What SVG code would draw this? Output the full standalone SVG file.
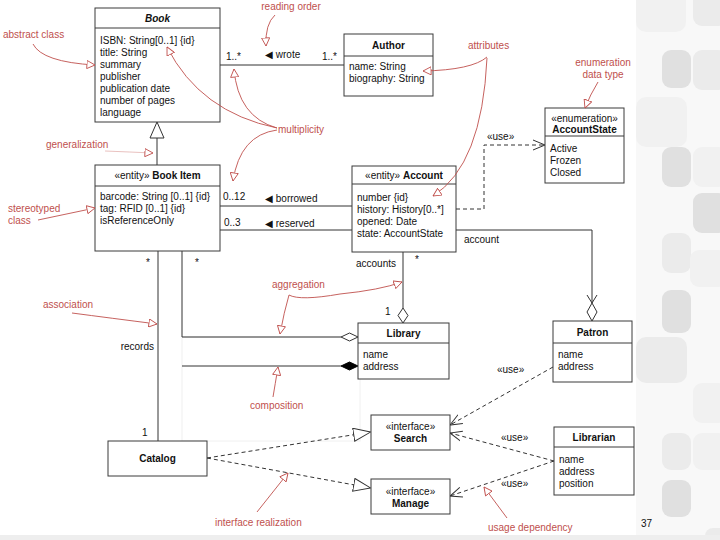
<svg xmlns="http://www.w3.org/2000/svg" width="720" height="540" viewBox="0 0 720 540">
<style>
.bx{fill:#fff;stroke:#3a3a3a;stroke-width:1}
.sep{stroke:#3a3a3a;stroke-width:1}
.t{font-family:"Liberation Sans",Arial,sans-serif;font-size:10px;fill:#111}
.b{font-weight:bold}
.c{text-anchor:middle}
.e{text-anchor:end}
.ann{font-family:"Liberation Sans",Arial,sans-serif;font-size:10px;fill:#c0504d}
.ln{stroke:#333;stroke-width:1;fill:none}
.dsh{stroke-dasharray:4 3}
.al{stroke:#c0504d;stroke-width:0.9;fill:none}
.bg1{fill:#ebebeb}
.bg2{fill:#e0e0e0}
.bg3{fill:#f1f1f1}
</style>
<defs>
<marker id="tri" viewBox="0 0 18 14" refX="18" refY="7" markerWidth="18" markerHeight="14" markerUnits="userSpaceOnUse" orient="auto">
<path d="M0.5,0.5 L17.5,7 L0.5,13.5 Z" fill="#fff" stroke="#333" stroke-width="1"/>
</marker>
<marker id="opn" viewBox="0 0 12 12" refX="12" refY="6" markerWidth="12" markerHeight="12" markerUnits="userSpaceOnUse" orient="auto">
<path d="M0,1 L12,6 L0,11" fill="none" stroke="#333" stroke-width="1"/>
</marker>
<marker id="ra" viewBox="0 0 10 10" refX="9.5" refY="5" markerWidth="9" markerHeight="9" markerUnits="userSpaceOnUse" orient="auto">
<path d="M0.5,0.5 L9.5,5 L0.5,9.5 Z" fill="#fff" stroke="#c0504d" stroke-width="1"/>
</marker>
</defs>
<rect x="0" y="0" width="720" height="540" fill="#fff"/>
<g id="background">
<rect x="636" y="0" width="84" height="540" fill="#f8f8f8"/>
<rect class="bg3" x="636" y="-10" width="50" height="42" rx="10"/>
<rect class="bg1" x="693" y="-10" width="34" height="36" rx="9"/>
<rect class="bg2" x="662" y="50" width="29" height="38" rx="9"/>
<rect class="bg1" x="693" y="50" width="34" height="40" rx="9"/>
<rect class="bg3" x="636" y="97" width="51" height="50" rx="10"/>
<rect class="bg2" x="662" y="147" width="29" height="40" rx="9"/>
<rect class="bg3" x="693" y="147" width="34" height="40" rx="9"/>
<rect class="bg2" x="693" y="193" width="34" height="40" rx="9"/>
<rect class="bg1" x="662" y="233" width="29" height="40" rx="9"/>
<rect class="bg3" x="690" y="250" width="37" height="37" rx="9"/>
<rect class="bg2" x="662" y="290" width="29" height="43" rx="9"/>
<rect class="bg1" x="636" y="337" width="51" height="46" rx="10"/>
<rect class="bg3" x="693" y="383" width="34" height="40" rx="9"/>
<rect class="bg1" x="662" y="433" width="29" height="37" rx="9"/>
<rect class="bg3" x="693" y="433" width="34" height="37" rx="9"/>
<rect class="bg2" x="662" y="480" width="29" height="37" rx="9"/>
<rect class="bg1" x="705" y="528" width="24" height="20" rx="8"/>
<rect x="0" y="535" width="720" height="5" fill="#eeeeee"/>
<rect x="182" y="337" width="178" height="104" fill="none" stroke="#f0f0f0" stroke-width="1"/>
</g>
<g id="connectors">
<path class="ln" d="M157,138 V165"/>
<path d="M157,122 L150,138 L164,138 Z" fill="#fff" stroke="#333"/>
<path class="ln" d="M220,65 H344"/>
<path class="ln" d="M220,206 H352"/>
<path class="ln" d="M220,230 H352"/>
<path class="ln" d="M456,230 H592 V303"/>
<path class="ln" d="M587,295 L592,303 L597,295"/>
<path d="M592,303 L597,312 L592,321 L587,312 Z" fill="#fff" stroke="#333"/>
<path class="ln" d="M403,252 V308"/>
<path d="M403,308 L408,315.5 L403,323 L398,315.5 Z" fill="#fff" stroke="#333"/>
<path class="ln dsh" d="M456,209 H484 V145 H545" marker-end="url(#opn)"/>
<path class="ln" d="M182,251 V337 H341"/>
<path d="M341,337 L349.5,333 L358,337 L349.5,341 Z" fill="#fff" stroke="#333"/>
<path class="ln" d="M182,366 H341"/>
<path d="M341,366 L349.5,362 L358,366 L349.5,370 Z" fill="#000" stroke="#000"/>
<path class="ln" d="M158,251 V441"/>
<path class="ln dsh" d="M207,458 L371,432" marker-end="url(#tri)"/>
<path class="ln dsh" d="M207,458 L371,488" marker-end="url(#tri)"/>
<path class="ln dsh" d="M553,367 L450,425" marker-end="url(#opn)"/>
<path class="ln dsh" d="M554,461 L450,433" marker-end="url(#opn)"/>
<path class="ln dsh" d="M554,461 L450,496" marker-end="url(#opn)"/>
<text class="t" x="226" y="60">1..*</text>
<text class="t" x="265" y="58">◀ wrote</text>
<text class="t" x="322" y="60">1..*</text>
<text class="t" x="223" y="199.5">0..12</text>
<text class="t" x="265" y="201.5">◀ borrowed</text>
<text class="t" x="224" y="225.5">0..3</text>
<text class="t" x="265" y="226.5">◀ reserved</text>
<text class="t" x="464" y="243">account</text>
<text class="t" x="356" y="267">accounts</text>
<text class="t" x="415" y="263">*</text>
<text class="t" x="385" y="315">1</text>
<text class="t" x="487" y="140">«use»</text>
<text class="t" x="146" y="266">*</text>
<text class="t" x="195" y="266">*</text>
<text class="t e" x="154" y="350">records</text>
<text class="t" x="142" y="436">1</text>
<text class="t" x="497" y="373">«use»</text>
<text class="t" x="501" y="441">«use»</text>
<text class="t" x="501" y="487">«use»</text>
</g>
<g id="book">
<rect class="bx" x="95" y="8" width="125" height="114"/>
<line class="sep" x1="95" y1="28" x2="220" y2="28"/>
<text class="t b c" x="157.5" y="21.5" font-style="italic">Book</text>
<text class="t" x="100" y="43.5">ISBN: String[0..1] {id}</text>
<text class="t" x="100" y="55.5">title: String</text>
<text class="t" x="100" y="67.5">summary</text>
<text class="t" x="100" y="79.5">publisher</text>
<text class="t" x="100" y="91.5">publication date</text>
<text class="t" x="100" y="103.5">number of pages</text>
<text class="t" x="100" y="115.5">language</text>
</g>
<g id="author">
<rect class="bx" x="344" y="34" width="89" height="62"/>
<line class="sep" x1="344" y1="56" x2="433" y2="56"/>
<text class="t b c" x="388.5" y="48.5">Author</text>
<text class="t" x="349" y="69.5">name: String</text>
<text class="t" x="349" y="82">biography: String</text>
</g>
<g id="accountstate">
<rect class="bx" x="545" y="108" width="79" height="75"/>
<line class="sep" x1="545" y1="136" x2="624" y2="136"/>
<text class="t c" x="584.5" y="121.5">«enumeration»</text>
<text class="t b c" x="584.5" y="133">AccountState</text>
<text class="t" x="550" y="151.5">Active</text>
<text class="t" x="550" y="163.5">Frozen</text>
<text class="t" x="550" y="175.5">Closed</text>
</g>
<g id="bookitem">
<rect class="bx" x="95" y="165" width="125" height="86"/>
<line class="sep" x1="95" y1="186" x2="220" y2="186"/>
<text class="t c" x="157.5" y="178.5">«entity» <tspan class="b">Book Item</tspan></text>
<text class="t" x="100" y="199.5">barcode: String [0..1] {id}</text>
<text class="t" x="100" y="211.5">tag: RFID [0..1] {id}</text>
<text class="t" x="100" y="223.5">isReferenceOnly</text>
</g>
<g id="account">
<rect class="bx" x="352" y="166" width="104" height="86"/>
<line class="sep" x1="352" y1="184" x2="456" y2="184"/>
<text class="t c" x="404" y="178.5">«entity» <tspan class="b">Account</tspan></text>
<text class="t" x="357" y="200.5">number {id}</text>
<text class="t" x="357" y="212.5">history: History[0..*]</text>
<text class="t" x="357" y="224.5">opened: Date</text>
<text class="t" x="357" y="236.5">state: AccountState</text>
</g>
<g id="library">
<rect class="bx" x="358" y="323" width="91" height="56"/>
<line class="sep" x1="358" y1="343" x2="449" y2="343"/>
<text class="t b c" x="403.5" y="336.5">Library</text>
<text class="t" x="363" y="357.5">name</text>
<text class="t" x="363" y="369.5">address</text>
</g>
<g id="patron">
<rect class="bx" x="553" y="321" width="79" height="61"/>
<line class="sep" x1="553" y1="343" x2="632" y2="343"/>
<text class="t b c" x="592.5" y="335.5">Patron</text>
<text class="t" x="558" y="357.5">name</text>
<text class="t" x="558" y="369.5">address</text>
</g>
<g id="librarian">
<rect class="bx" x="554" y="427" width="80" height="68"/>
<line class="sep" x1="554" y1="447" x2="634" y2="447"/>
<text class="t b c" x="594" y="440.5">Librarian</text>
<text class="t" x="559" y="462.5">name</text>
<text class="t" x="559" y="474.5">address</text>
<text class="t" x="559" y="486.5">position</text>
</g>
<g id="catalog">
<rect class="bx" x="108" y="441" width="99" height="35"/>
<text class="t b c" x="157.5" y="462">Catalog</text>
</g>
<g id="search">
<rect class="bx" x="371" y="415" width="79" height="35"/>
<text class="t c" x="410.5" y="429.5">«interface»</text>
<text class="t b c" x="410.5" y="441.5">Search</text>
</g>
<g id="manage">
<rect class="bx" x="371" y="479" width="79" height="35"/>
<text class="t c" x="410.5" y="494.5">«interface»</text>
<text class="t b c" x="410.5" y="506.5">Manage</text>
</g>
<g id="annotations">
<text class="ann c" x="291" y="9.5">reading order</text>
<path class="al" d="M275,15 Q265,24 266,46" marker-end="url(#ra)"/>
<text class="ann" x="3" y="37.5">abstract class</text>
<path class="al" d="M33,44 Q42,62 95,65" marker-end="url(#ra)"/>
<text class="ann" x="278" y="132.5">multiplicity</text>
<path class="al" d="M277,128 Q200,112 167,47" marker-end="url(#ra)"/>
<path class="al" d="M277,128 Q238,117 234,69" marker-end="url(#ra)"/>
<path class="al" d="M277,130 Q240,135 233,181" marker-end="url(#ra)"/>
<text class="ann" x="468" y="48.5">attributes</text>
<path class="al" d="M487,57 Q472,70 423,71" marker-end="url(#ra)"/>
<path class="al" d="M487,58 Q482,165 433,196" marker-end="url(#ra)"/>
<text class="ann c" x="603" y="65.5">enumeration</text>
<text class="ann c" x="603" y="77.5">data type</text>
<path class="al" d="M598,82 Q590,95 585,108" marker-end="url(#ra)"/>
<text class="ann" x="46" y="147.5">generalization</text>
<path class="al" d="M105,151 Q130,152 153,153" stroke-opacity="0.4" marker-end="url(#ra)"/>
<text class="ann" x="8" y="212">stereotyped</text>
<text class="ann" x="8" y="224">class</text>
<path class="al" d="M38,220 L95,208" marker-end="url(#ra)"/>
<text class="ann" x="272" y="287.5">aggregation</text>
<path class="al" d="M289,295 Q284,312 280,334" marker-end="url(#ra)"/>
<path class="al" d="M289,295 Q300,301 340,294 Q380,290 402,282" marker-end="url(#ra)"/>
<text class="ann" x="43" y="307.5">association</text>
<path class="al" d="M72,313 Q110,318 157,324" marker-end="url(#ra)"/>
<text class="ann" x="250" y="408.5">composition</text>
<path class="al" d="M273,397 Q275,385 278,367" marker-end="url(#ra)"/>
<text class="ann" x="215" y="525.5">interface realization</text>
<path class="al" d="M257,512 L288,473" marker-end="url(#ra)"/>
<text class="ann" x="488" y="530.5">usage dependency</text>
<path class="al" d="M507,518 L484,487" marker-end="url(#ra)"/>
</g>
<text class="t" x="641" y="527" font-size="8">37</text>
</svg>
